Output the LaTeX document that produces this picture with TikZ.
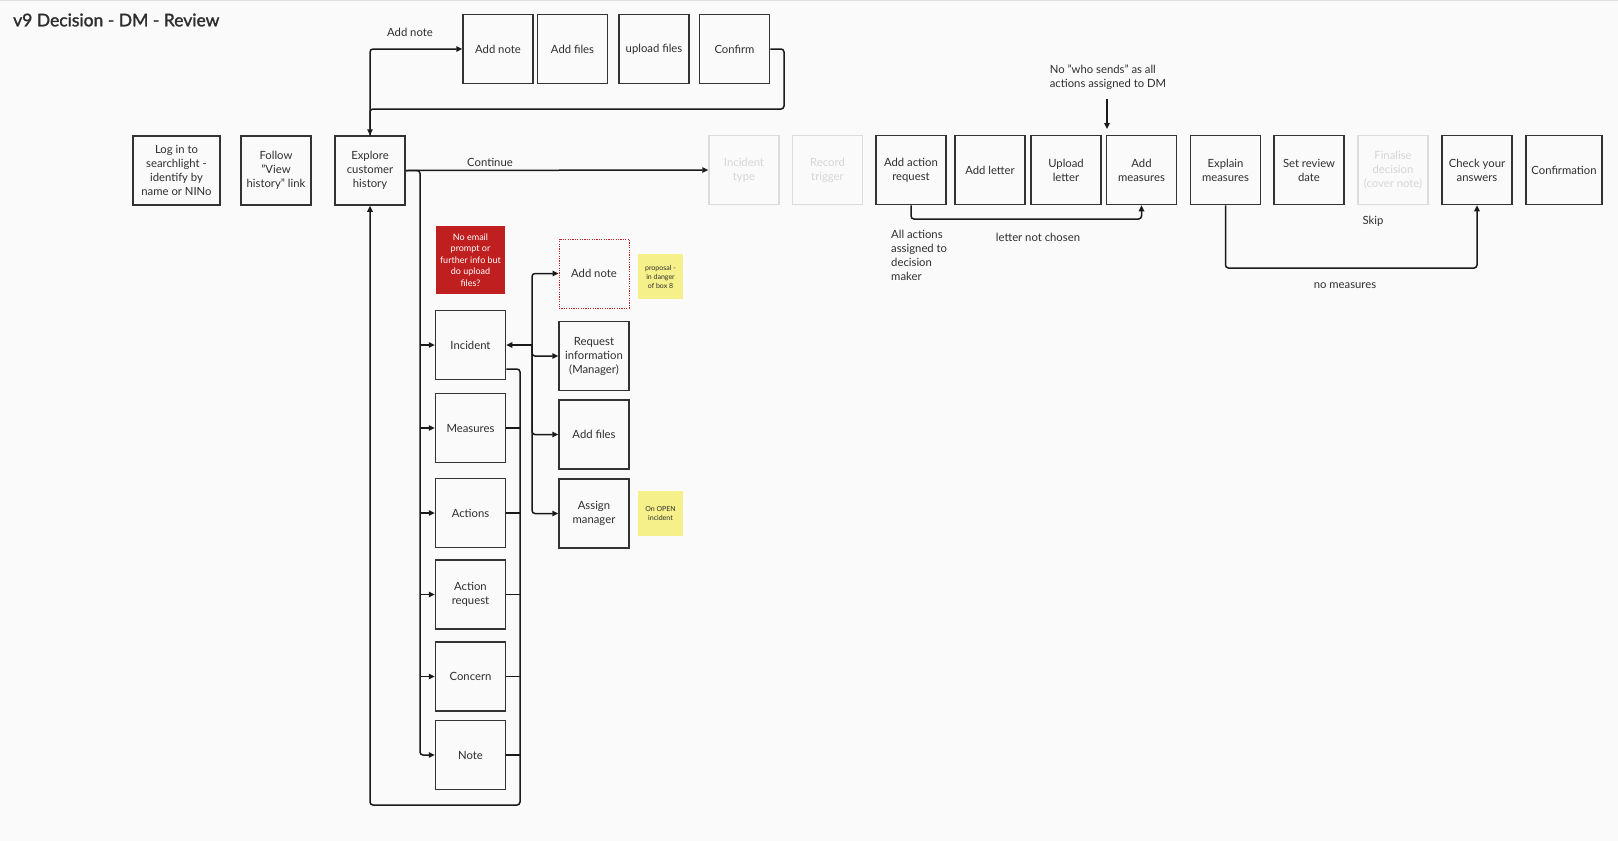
\documentclass[tikz,border=0pt]{standalone}
\usepackage{fontspec}
\setmainfont{Lato}
\newfontfamily\titlefont[BoldFont=Lato, BoldFeatures={FakeBold=1.6}]{Lato}
\usetikzlibrary{arrows.meta}
\definecolor{bg}{HTML}{FAFAFA}
\definecolor{boxline}{HTML}{333333}
\definecolor{linec}{HTML}{1A1A1A}
\definecolor{txt}{HTML}{2E2E2E}
\definecolor{faded}{HTML}{DCDCDC}
\definecolor{fadedtxt}{HTML}{D6D6D6}
\definecolor{redbox}{HTML}{BF1F1F}
\definecolor{yel}{HTML}{F6F08A}
\tikzset{
  box/.style={draw=boxline, line width=1.5pt, fill=bg, minimum width=70, minimum height=69,
    inner sep=0pt, align=center, text=txt, font=\fontsize{11.3}{14}\selectfont},
  fbox/.style={box, draw=faded, text=fadedtxt},
  lbl/.style={text=txt, font=\fontsize{11.3}{14}\selectfont, inner sep=0pt},
  conn/.style={draw=linec, line width=1.5pt, rounded corners=3pt},
  arr/.style={conn, -{Triangle[length=6pt,width=5.5pt]}},
  sticky/.style={fill=yel, minimum width=45, minimum height=45, inner sep=0pt, align=center,
    text=txt, font=\fontsize{7}{9}\selectfont},
}
\begin{document}
\begin{tikzpicture}[x=1pt,y=-1pt]
\fill[bg] (0,0) rectangle (1618,841);
\useasboundingbox (0,0) rectangle (1618,841);
\draw[gray!25, line width=0.8pt] (0,0.6) -- (1618,0.6);

\node[anchor=west, text=txt, font=\fontsize{17.5}{20}\titlefont\bfseries, inner sep=0pt] (title) at (13,20) {v9 Decision - DM - Review};

% main row
\node[box, minimum width=87] (login) at (176.5,170.5) {Log in to\\searchlight -\\identify by\\name or NINo};
\node[box] (follow) at (276,170.5) {Follow\\"View\\history" link};
\node[box] (explore) at (370,170.5) {Explore\\customer\\history};

% top row
\node[box] (addnoteT) at (498,49) {Add note};
\node[box] (addfilesT) at (572.5,49) {Add files};
\node[box] (uploadT) at (654,49) {upload files};
\node[box] (confirmT) at (734.5,49) {Confirm};

% flow row
\node[fbox] (inctype) at (744,170) {Incident\\type};
\node[fbox] (rectrig) at (827.5,170) {Record\\trigger};
\node[box] (addar) at (911,170) {Add action\\request};
\node[box] (addletter) at (990,170) {Add letter};
\node[box] (uploadletter) at (1066,170) {Upload\\letter};
\node[box] (addmeasures) at (1141.5,170) {Add\\measures};
\node[box] (explain) at (1225.5,170) {Explain\\measures};
\node[box] (setreview) at (1309,170) {Set review\\date};
\node[fbox] (finalise) at (1393,170) {Finalise\\decision\\(cover note)};
\node[box] (check) at (1477,170) {Check your\\answers};
\node[box, minimum width=76] (confirmation) at (1564,170) {Confirmation};

% left column
\node[fill=redbox, minimum width=69, minimum height=68, inner sep=0pt, align=center, text=white,
  font=\fontsize{9}{11.5}\selectfont] (red) at (470.5,260) {No email\\prompt or\\further info but\\do upload\\files?};
\node[box] (incident) at (470.5,345) {Incident};
\node[box] (measures) at (470.5,428) {Measures};
\node[box] (actions) at (470.5,513) {Actions};
\node[box] (actionreq) at (470.5,594.5) {Action\\request};
\node[box] (concern) at (470.5,676.5) {Concern};
\node[box] (note) at (470.5,755) {Note};

% right column
\node[box, draw=redbox, line width=1pt, dash pattern=on 1.2pt off 1.2pt] (addnoteB) at (594,273.5) {Add note};
\node[box] (reqinfo) at (594,356) {Request\\information\\(Manager)};
\node[box] (addfilesB) at (594,434.5) {Add files};
\node[box] (assign) at (594,513.5) {Assign\\manager};
\node[sticky] (y1) at (660.5,276.5) {proposal -\\in danger\\of box 8};
\node[sticky] (y2) at (660.5,513.5) {On OPEN\\incident};

% labels
\node[lbl] (lAddnote) at (410,32) {Add note};
\node[lbl] (lContinue) at (490,162) {Continue};
\node[lbl, anchor=north west, align=left] (lAll) at (891,230) {All actions\\assigned to\\decision\\maker};
\node[lbl] (lLetter) at (1038,237) {letter not chosen};
\node[lbl, align=left] (lWho) at (1108,77) {No "who sends" as all\\actions assigned to DM};
\node[lbl] (lSkip) at (1373,221) {Skip};
\node[lbl] (lNoMeas) at (1345,286) {no measures};

% coordinates
\coordinate (topLoop) at (784,109);
\coordinate (lbx) at (420,0);
\coordinate (rbx) at (520,805);
\coordinate (ibx) at (532,0);
\coordinate (arLoop) at (0,219);
\coordinate (exLoop) at (0,268);
\coordinate (whoEnd) at (1107,129);

% top loop
\draw[arr] (explore.north) |- (addnoteT.west);
\draw[arr] (confirmT.east) -| (topLoop) -| (explore.north);

% continue
\draw[arr] (explore.east) -- (inctype.west);

% left bus
\draw[arr] (explore.east) -| (lbx |- note.west) -- (note.west);
\foreach \n in {incident,measures,actions,actionreq,concern}
  \draw[arr] (lbx |- \n.west) -- (\n.west);

% right bus back to explore
\draw[arr] ([yshift=-24pt]incident.east) -| (rbx) -| (explore.south);
\foreach \n in {measures,actions,actionreq,concern,note}
  \draw[conn] (\n.east) -- (rbx |- \n.east);

% incident options
\draw[arr] (ibx |- incident.east) -- (incident.east);
\draw[arr] (ibx |- incident.east) |- (addnoteB.west);
\draw[arr] (ibx |- incident.east) |- (reqinfo.west);
\draw[arr] (ibx |- incident.east) |- (addfilesB.west);
\draw[arr] (ibx |- incident.east) |- (assign.west);

% action request loop
\draw[arr] (addar.south) -- (addar.south |- arLoop) -| (addmeasures.south);
% who sends note
\draw[arr] ([yshift=-9pt]lWho.south -| whoEnd) -- (whoEnd);
% explain loop
\draw[arr] (explain.south) -- (explain.south |- exLoop) -| (check.south);
\end{tikzpicture}
\end{document}
